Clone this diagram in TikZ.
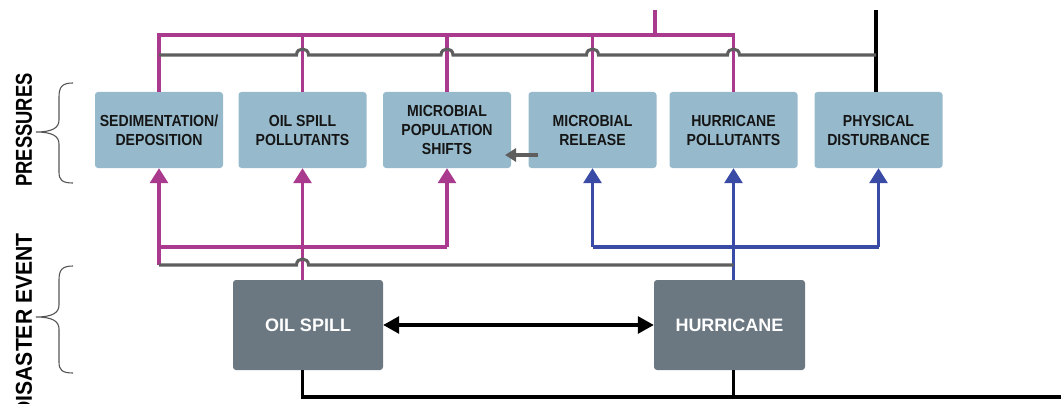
\documentclass[tikz,border=0pt]{standalone}
\usepackage{fontspec}
\setmainfont{Liberation Sans}
\newfontfamily\narrowfont[FakeStretch=0.8]{Liberation Sans}
\newfontfamily\widerfont[FakeStretch=0.92]{Liberation Sans}
\newfontfamily\boxfont[FakeStretch=0.88]{Liberation Sans}
\usetikzlibrary{arrows.meta}
\definecolor{pinkc}{HTML}{A93A8E}
\definecolor{bluec}{HTML}{3A4BA6}
\definecolor{grayc}{HTML}{5E5E5E}
\definecolor{boxblue}{HTML}{96BACC}
\definecolor{boxdark}{HTML}{6B7882}
\definecolor{boxtext}{HTML}{151515}
\definecolor{bracec}{HTML}{555555}
\begin{document}
\begin{tikzpicture}[x=1pt,y=-1pt,
  pbox/.style={fill=boxblue, rounded corners=3pt, minimum width=128pt, minimum height=76pt,
    inner sep=0pt, align=center, text=boxtext, font=\boxfont\fontsize{16}{19}\selectfont\bfseries},
  ebox/.style={fill=boxdark, rounded corners=3pt, minimum width=150pt, minimum height=90pt,
    inner sep=0pt, align=center, text=white, font=\fontsize{18}{22}\selectfont\bfseries},
  sidelabel/.style={rotate=90, inner sep=0pt, text=black, font=\narrowfont\bfseries\fontsize{23}{23}\selectfont},
  pl/.style={draw=pinkc, line width=3.1pt},
  bl/.style={draw=bluec, line width=3.1pt},
  gl/.style={draw=grayc, line width=3.1pt},
  kl/.style={draw=black, line width=3.1pt},
  parrow/.style={pl, -{Triangle[width=18pt,length=15pt]}},
  barrow/.style={bl, -{Triangle[width=18pt,length=15pt]}},
  karrow/.style={kl, {Triangle[width=17pt,length=16pt]}-{Triangle[width=17pt,length=16pt]}},
  garrow/.style={gl, -{Triangle[width=13pt,length=11pt]}},
  bracestyle/.style={draw=bracec, line width=1.1pt}
]
\useasboundingbox (0,0) rectangle (1061,404);

% pressure boxes
\node[pbox] (b1) at (159,130) {SEDIMENTATION/\\DEPOSITION};
\node[pbox] (b2) at (302.5,130) {OIL SPILL\\POLLUTANTS};
\node[pbox] (b3) at (447,130) {MICROBIAL\\POPULATION\\SHIFTS};
\node[pbox] (b4) at (592.5,130) {MICROBIAL\\RELEASE};
\node[pbox] (b5) at (733.5,130) {HURRICANE\\POLLUTANTS};
\node[pbox] (b6) at (878.5,130) {PHYSICAL\\DISTURBANCE};

% event boxes
\node[ebox] (oil) at (308,325) {OIL SPILL};
\node[ebox, minimum width=151pt] (hur) at (729.5,325) {HURRICANE};

% side labels
\node[sidelabel] (lp) at (24,130) {PRESSURES};
\node[sidelabel, anchor=east, font=\widerfont\bfseries\fontsize{23}{23}\selectfont] (ld) at (24,233) {DISASTER EVENT};

% braces
\draw[bracestyle] (73,83) .. controls (62,83) and (59,87) .. (59,97) -- (59,120)
  .. controls (59,128) and (52,132) .. (36,132)
  .. controls (52,132) and (59,136) .. (59,144) -- (59,172)
  .. controls (59,180) and (62,183) .. (73,183);
\draw[bracestyle] (73,266) .. controls (62,266) and (59,270) .. (59,280) -- (59,305)
  .. controls (59,313) and (52,317) .. (36,317)
  .. controls (52,317) and (59,321) .. (59,329) -- (59,362)
  .. controls (59,370) and (62,373) .. (73,373);

% top coordinates
\coordinate (ptop) at (655,10);
\coordinate (ktop) at (876,10);

% top pink bus
\draw[pl] (b1.north) -- (b1.north |- 0,35) -- (b5.north |- 0,35) -- (b5.north);
\foreach \b in {b2,b3,b4} \draw[pl] (\b.north) -- (\b.north |- 0,35);
\draw[pl] (ptop) -- (ptop |- 0,35);

% top black line
\draw[kl] (ktop) -- (ktop |- b6.north);

% top gray line with hops
\draw[gl] (159,55) foreach \x in {302.5,447,592.5,733.5} {
    -- (\x-6,55) .. controls (\x-6,47) and (\x+6,47) .. (\x+6,55) } -- (876,55);

% lower pink (oil spill)
\draw[pl] (b1.south |- 0,247) -- (b3.south |- 0,247);
\draw[parrow] (b1.south |- 0,265) -- (b1.south);
\draw[parrow] (b3.south |- 0,247) -- (b3.south);
\draw[parrow] (b2.south |- oil.north) -- (b2.south);

% lower blue (hurricane)
\draw[bl] (b4.south |- 0,247) -- (b6.south |- 0,247);
\draw[barrow] (b4.south |- 0,247) -- (b4.south);
\draw[barrow] (b6.south |- 0,247) -- (b6.south);
\draw[barrow] (b5.south |- hur.north) -- (b5.south);

% lower gray line with hop
\draw[gl] (159,265) -- (296.5,265) .. controls (296.5,257) and (308.5,257) .. (308.5,265) -- (733.5,265);

% gray arrow microbial release -> population shifts
\coordinate (ga) at (538,155);
\coordinate (gb) at (505,155);
\draw[garrow] (ga) -- (gb);

% double arrow between events
\draw[karrow] (oil.east) -- (hur.west);

% bottom black line
\coordinate (kend) at (1061,397);
\draw[kl] (oil.south -| b2.south) -- (b2.south |- kend) -- (kend);
\draw[kl] (hur.south -| b5.south) -- (b5.south |- kend);
\end{tikzpicture}
\end{document}
